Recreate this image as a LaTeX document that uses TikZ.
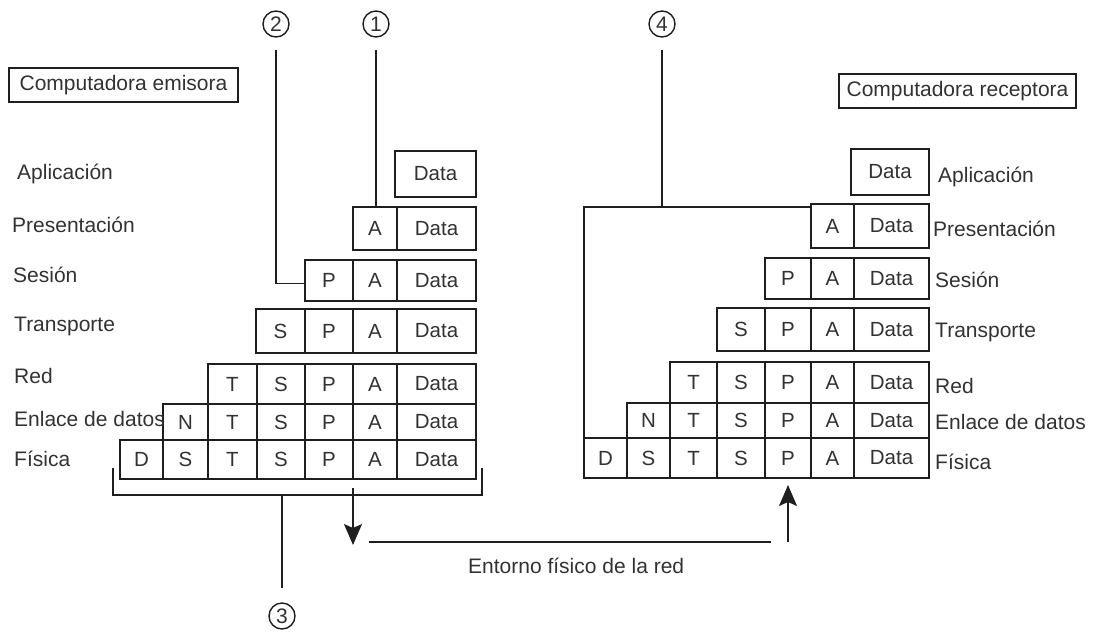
\documentclass[tikz,border=0pt]{standalone}
\usepackage{fontspec}
\setmainfont{Liberation Sans}
\usetikzlibrary{arrows.meta}
\definecolor{ink}{RGB}{30,30,30}
\definecolor{txt}{RGB}{50,50,50}
\tikzset{
  cell/.style={draw=ink, line width=1.8pt, inner sep=0pt, outer sep=0pt,
    text=txt, font=\fontsize{20.5}{24}\selectfont},
  layer/.style={inner sep=0pt, anchor=base west, text=txt,
    font=\fontsize{21}{24}\selectfont},
  hostbox/.style={draw=ink, line width=1.8pt, inner sep=0pt, text=txt,
    font=\fontsize{21}{24}\selectfont},
  callout/.style={circle, draw=ink, line width=1.4pt, minimum size=26pt,
    inner sep=0pt, text=txt, font=\fontsize{21}{24}\selectfont},
  wire/.style={draw=ink, line width=1.4pt},
  flow/.style={wire, -{Stealth[length=21pt,width=18pt,inset=4pt]}},
}
% one header cell: name, x1, x2, y1, y2, text
\newcommand\pkcell[6]{%
  \node[cell, minimum width={(#3-#2)*1pt}, minimum height={(#5-#4)*1pt}]
    (#1) at ({(#2+#3)/2},{(#4+#5)/2}) {#6};}
% a packet row: prefix, y1, y2, list of name/x1/x2/text
\newcommand\pkrow[4]{%
  \foreach \n/\a/\b/\t in {#4} {\pkcell{#1\n}{\a}{\b}{#2}{#3}{\t}}}

\begin{document}
\begin{tikzpicture}[x=1pt,y=-1pt]
\useasboundingbox (0,0) rectangle (1099,632);

% ---------- sending host ----------
\node[hostbox, minimum width=229pt, minimum height=34pt] (hostL) at (123.5,85) {Computadora emisora};

\pkrow{La}{151}{197}{Data/395/476/Data}
\pkrow{Lp}{207}{250}{A/353/397/A, Data/397/476/Data}
\pkrow{Ls}{260}{301}{P/305/353/P, A/353/397/A, Data/397/476/Data}
\pkrow{Lt}{309}{353}{S/256/305/S, P/305/353/P, A/353/397/A, Data/397/476/Data}
\pkrow{Lr}{364}{404}{T/208/257/T, S/257/305/S, P/305/353/P, A/353/397/A, Data/397/476/Data}
\pkrow{Le}{404}{440}{N/163/208/N, T/208/257/T, S/257/305/S, P/305/353/P, A/353/397/A, Data/397/476/Data}
\pkrow{Lf}{440}{479}{D/120/163/D, S2/163/208/S, T/208/257/T, S/257/305/S, P/305/353/P, A/353/397/A, Data/397/476/Data}

\node[layer] (lLa) at (17,179) {Aplicación};
\node[layer] (lLp) at (12,232) {Presentación};
\node[layer] (lLs) at (13,282) {Sesión};
\node[layer] (lLt) at (14,331) {Transporte};
\node[layer] (lLr) at (14,383) {Red};
\node[layer] (lLe) at (14,426) {Enlace de datos};
\node[layer] (lLf) at (14,466) {Física};

% ---------- receiving host ----------
\node[hostbox, minimum width=237pt, minimum height=34pt] (hostR) at (957.5,91) {Computadora receptora};

\pkrow{Ra}{149}{195}{Data/851/929/Data}
\pkrow{Rp}{204}{248}{A/811/854/A, Data/854/929/Data}
\pkrow{Rs}{258}{299}{P/765/811/P, A/811/854/A, Data/854/929/Data}
\pkrow{Rt}{308}{351}{S/717/765/S, P/765/811/P, A/811/854/A, Data/854/929/Data}
\pkrow{Rr}{362}{403}{T/670/717/T, S/717/765/S, P/765/811/P, A/811/854/A, Data/854/929/Data}
\pkrow{Re}{403}{438}{N/627/670/N, T/670/717/T, S/717/765/S, P/765/811/P, A/811/854/A, Data/854/929/Data}
\pkrow{Rf}{438}{478}{D/584/627/D, S2/627/670/S, T/670/717/T, S/717/765/S, P/765/811/P, A/811/854/A, Data/854/929/Data}

\node[layer] (lRa) at (938,182) {Aplicación};
\node[layer] (lRp) at (933,236) {Presentación};
\node[layer] (lRs) at (935,287) {Sesión};
\node[layer] (lRt) at (935,337) {Transporte};
\node[layer] (lRr) at (935,393) {Red};
\node[layer] (lRe) at (935,429) {Enlace de datos};
\node[layer] (lRf) at (935,469) {Física};

% ---------- callouts ----------
\node[callout] (c1) at (376,24) {1};
\node[callout] (c2) at (276,24) {2};
\node[callout] (c3) at (282,616) {3};
\node[callout] (c4) at (662,24) {4};

\draw[wire] ([yshift=-12pt]c1.south) -- (c1.south |- LpA.north);
\draw[wire] ([yshift=-12pt]c2.south) |- ([yshift=-3pt]LsP.west);

\coordinate (brL) at ([xshift=-7pt,yshift=-16pt]LfD.south west);
\coordinate (brR) at ([xshift=6pt,yshift=-16pt]LfData.south east);
\draw[wire] ([yshift=27pt]brL) -- (brL) -- (brR) -- ([yshift=27pt]brR);
\draw[wire] (c3 |- brL) -- ([yshift=14pt]c3.north);

\coordinate (k4) at ([yshift=-3pt]RpA.north west);
\draw[wire] ([yshift=-12pt]c4.south) -- (c4 |- k4);
\draw[wire] (k4) -| (RfD.north west);

% ---------- physical medium ----------
\coordinate (netL) at (369,542);
\coordinate (netR) at (771,542);
\coordinate (drop) at (353,545);
\coordinate (rise) at (788,542);
\draw[wire] (netL) -- (netR);
\draw[flow] ([yshift=-9pt]LfA.south west) -- (drop);
\draw[flow] (rise) -- ([yshift=-7pt]RfP.south);
\node[layer] (medium) at (468,573) {Entorno físico de la red};
\end{tikzpicture}
\end{document}
